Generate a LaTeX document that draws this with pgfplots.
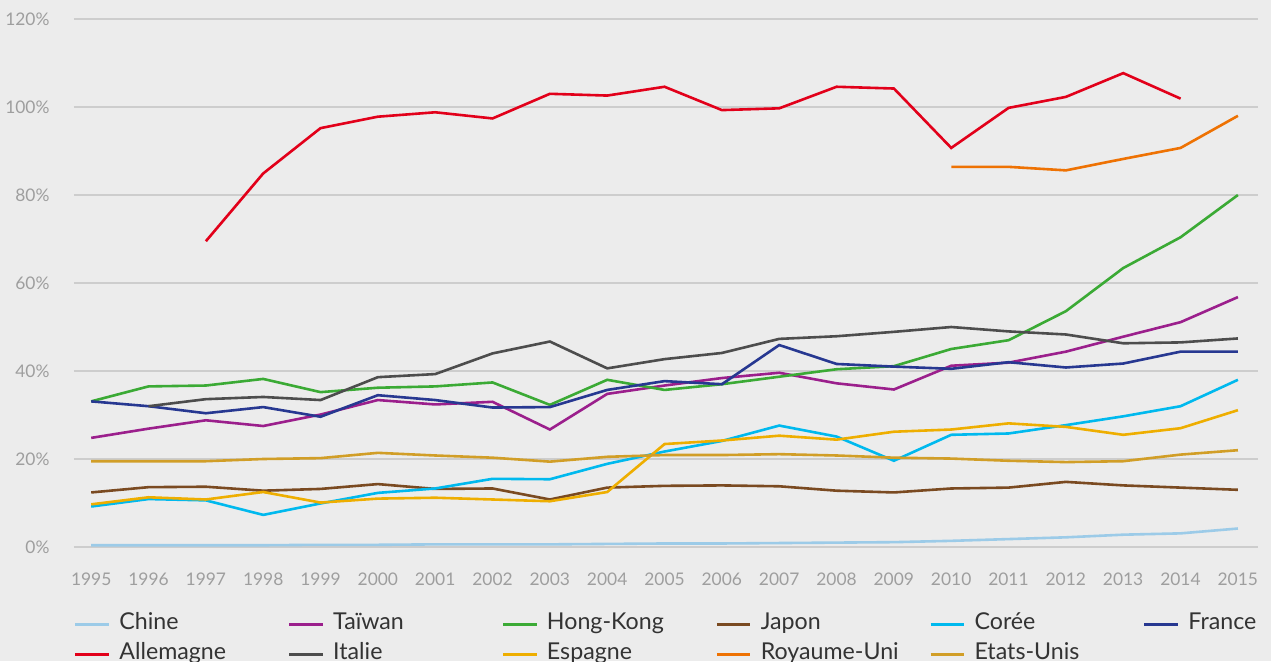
\documentclass[border=0pt]{standalone}
\usepackage{pgfplots}
\pgfplotsset{compat=1.18}
\usepackage{fontspec}
\setmainfont{Lato}
\definecolor{bgc}{HTML}{ECECEC}
\definecolor{gridc}{HTML}{CDCDCD}
\definecolor{tickc}{HTML}{9E9E9E}
\definecolor{legc}{HTML}{333333}
\definecolor{cchine}{HTML}{9CCBE8}
\definecolor{ctaiwan}{HTML}{9B1F8C}
\definecolor{chk}{HTML}{3BAA35}
\definecolor{cjapon}{HTML}{7A4A21}
\definecolor{ccoree}{HTML}{00B9EE}
\definecolor{cfrance}{HTML}{273891}
\definecolor{callem}{HTML}{E2001A}
\definecolor{citalie}{HTML}{4D4D4D}
\definecolor{cespagne}{HTML}{EEAE00}
\definecolor{cru}{HTML}{EE7203}
\definecolor{cus}{HTML}{D19E27}
\begin{document}
\begin{tikzpicture}
\fill[bgc] (-37pt,-57pt) rectangle (598.5pt,273.5pt);
\begin{axis}[
  scale only axis, width=592pt, height=264pt,
  xmin=1994.7, xmax=2015.35, ymin=0, ymax=120,
  axis line style={draw=none},
  major tick length=0pt,
  ymajorgrids, grid style={gridc, line width=0.75pt},
  xtick={1995,...,2015}, ytick={0,20,...,120},
  /pgf/number format/assume math mode=true,
  yticklabel={\pgfmathprintnumber{\tick}\%},
  tick label style={font=\fontsize{8.7}{10}\selectfont, text=tickc},
  xticklabel style={/pgf/number format/1000 sep={}, yshift=-9.6pt},
  yticklabel style={xshift=-8.7pt},
  legend columns=6,
  legend cell align=left,
  legend style={at={(0,-0.125)}, anchor=north west, draw=none, fill=none,
    inner sep=0pt, outer sep=0pt, column sep=0pt, row sep=4pt,
    font=\fontsize{11.6}{13}\selectfont, text=legc,
    nodes={inner sep=0pt, text height=8.4pt, text depth=2.6pt}},
  legend image code/.code={\draw[#1, line width=1.5pt] (0pt,0pt) -- (16.75pt,0pt); \path (21.3pt,0pt);},
  every axis plot/.append style={line width=1.3pt, no markers},
]
\addplot[cchine] coordinates {(1995,0.4)(1996,0.4)(1997,0.4)(1998,0.4)(1999,0.5)(2000,0.5)(2001,0.6)(2002,0.6)(2003,0.6)(2004,0.7)(2005,0.8)(2006,0.8)(2007,0.9)(2008,1.0)(2009,1.1)(2010,1.4)(2011,1.8)(2012,2.2)(2013,2.8)(2014,3.1)(2015,4.2)};
\addlegendentry{\makebox[84.2pt][l]{Chine}}
\addplot[ctaiwan] coordinates {(1995,24.8)(1996,26.9)(1997,28.8)(1998,27.5)(1999,30.1)(2000,33.4)(2001,32.4)(2002,33.0)(2003,26.7)(2004,34.8)(2005,36.7)(2006,38.4)(2007,39.6)(2008,37.2)(2009,35.8)(2010,41.2)(2011,41.9)(2012,44.4)(2013,47.8)(2014,51.1)(2015,56.8)};
\addlegendentry{\makebox[84.2pt][l]{Taïwan}}
\addplot[chk] coordinates {(1995,33.1)(1996,36.5)(1997,36.7)(1998,38.2)(1999,35.2)(2000,36.2)(2001,36.5)(2002,37.4)(2003,32.3)(2004,38.0)(2005,35.7)(2006,37.0)(2007,38.7)(2008,40.4)(2009,41.1)(2010,45.0)(2011,47.0)(2012,53.6)(2013,63.4)(2014,70.4)(2015,80.0)};
\addlegendentry{\makebox[84.2pt][l]{Hong-Kong}}
\addplot[cjapon] coordinates {(1995,12.4)(1996,13.6)(1997,13.7)(1998,12.8)(1999,13.2)(2000,14.3)(2001,13.2)(2002,13.3)(2003,10.8)(2004,13.5)(2005,13.9)(2006,14.0)(2007,13.8)(2008,12.8)(2009,12.4)(2010,13.3)(2011,13.5)(2012,14.8)(2013,14.0)(2014,13.5)(2015,13.0)};
\addlegendentry{\makebox[84.2pt][l]{Japon}}
\addplot[ccoree] coordinates {(1995,9.2)(1996,10.9)(1997,10.6)(1998,7.3)(1999,9.9)(2000,12.3)(2001,13.3)(2002,15.5)(2003,15.4)(2004,18.9)(2005,21.7)(2006,24.1)(2007,27.6)(2008,25.1)(2009,19.6)(2010,25.5)(2011,25.8)(2012,27.7)(2013,29.7)(2014,32.0)(2015,38.0)};
\addlegendentry{\makebox[84.2pt][l]{Corée}}
\addplot[cfrance] coordinates {(1995,33.1)(1996,32.0)(1997,30.4)(1998,31.8)(1999,29.6)(2000,34.5)(2001,33.4)(2002,31.7)(2003,31.8)(2004,35.7)(2005,37.7)(2006,37.0)(2007,45.9)(2008,41.6)(2009,41.0)(2010,40.5)(2011,42.0)(2012,40.8)(2013,41.7)(2014,44.4)(2015,44.4)};
\addlegendentry{\makebox[84.2pt][l]{France}}
\addplot[callem] coordinates {(1997,69.5)(1998,84.9)(1999,95.2)(2000,97.8)(2001,98.8)(2002,97.4)(2003,103.0)(2004,102.6)(2005,104.6)(2006,99.3)(2007,99.7)(2008,104.6)(2009,104.2)(2010,90.7)(2011,99.8)(2012,102.3)(2013,107.7)(2014,101.9)};
\addlegendentry{\makebox[84.2pt][l]{Allemagne}}
\addplot[citalie] coordinates {(1996,32.0)(1997,33.6)(1998,34.1)(1999,33.4)(2000,38.6)(2001,39.3)(2002,44.0)(2003,46.7)(2004,40.6)(2005,42.7)(2006,44.1)(2007,47.3)(2008,47.9)(2009,48.9)(2010,50.0)(2011,49.0)(2012,48.3)(2013,46.3)(2014,46.5)(2015,47.4)};
\addlegendentry{\makebox[84.2pt][l]{Italie}}
\addplot[cespagne] coordinates {(1995,9.7)(1996,11.3)(1997,10.8)(1998,12.5)(1999,10.1)(2000,11.0)(2001,11.2)(2002,10.8)(2003,10.4)(2004,12.5)(2005,23.4)(2006,24.2)(2007,25.3)(2008,24.4)(2009,26.2)(2010,26.7)(2011,28.1)(2012,27.3)(2013,25.5)(2014,27.0)(2015,31.1)};
\addlegendentry{\makebox[84.2pt][l]{Espagne}}
\addplot[cru] coordinates {(2010,86.4)(2011,86.4)(2012,85.6)(2013,88.2)(2014,90.7)(2015,98.0)};
\addlegendentry{\makebox[84.2pt][l]{Royaume-Uni}}
\addplot[cus] coordinates {(1995,19.5)(1996,19.5)(1997,19.5)(1998,20.0)(1999,20.2)(2000,21.4)(2001,20.8)(2002,20.3)(2003,19.4)(2004,20.5)(2005,20.9)(2006,20.9)(2007,21.1)(2008,20.8)(2009,20.3)(2010,20.1)(2011,19.6)(2012,19.3)(2013,19.5)(2014,21.0)(2015,22.0)};
\addlegendentry{\makebox[84.2pt][l]{Etats-Unis}}
\end{axis}
\pgfresetboundingbox
\useasboundingbox (-37pt,-57pt) rectangle (598.5pt,273.5pt);
\end{tikzpicture}
\end{document}
